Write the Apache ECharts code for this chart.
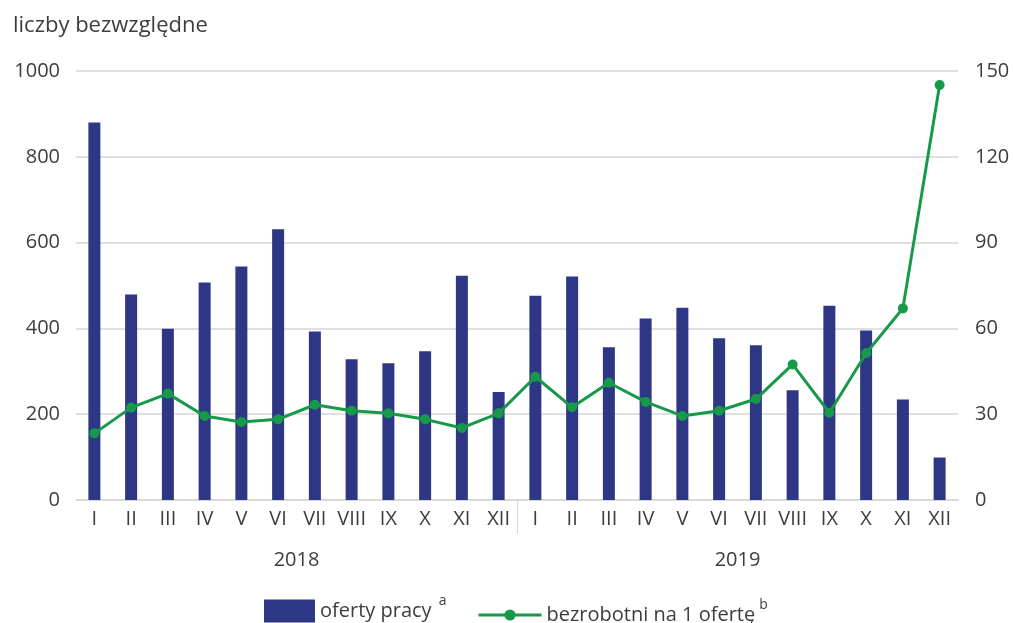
<!DOCTYPE html>
<html>
<head>
<meta charset="utf-8">
<script src="https://cdn.jsdelivr.net/npm/echarts@6/dist/echarts.min.js"></script>
<style>
html,body{margin:0;padding:0;background:#fff;}
#chart{width:1013px;height:623px;}
</style>
</head>
<body>
<div id="chart"></div>
<script>
const months = ['I','II','III','IV','V','VI','VII','VIII','IX','X','XI','XII',
                'I','II','III','IV','V','VI','VII','VIII','IX','X','XI','XII'];
const years = ['2018','2019'];
const ofertyPracy = [880,479,399,507,544,631,393,328,319,347,523,252,
                     476,521,356,423,448,377,361,256,453,395,234,99];
const bezrobotniNaOferte = [23.3,32.3,37.2,29.4,27.3,28.2,33.3,31.2,30.3,28.2,25.2,30.3,
                            43.1,32.4,41.0,34.3,29.4,31.2,35.3,47.4,30.5,51.3,67.0,145.1];
const leftTicks = {min:0, max:1000, interval:200};
const rightTicks = {min:0, max:150, interval:30};
const yTitle = 'liczby bezwzględne';
const nameBars = 'oferty pracy';
const nameLine = 'bezrobotni na 1 ofertę';

const FONT = '"Open Sans", "Noto Sans", sans-serif';
const TXT = '#3d3d3d';
const BAR = '#2d3786';
const GREEN = '#17994a';
const GRID = '#d6d6d6';

const nMonths = months.length;
const perYear = 12;

const chart = echarts.init(document.getElementById('chart'));
chart.setOption({
  animation:false,
  backgroundColor:'#fff',
  textStyle:{fontFamily:FONT, color:TXT},
  title:{text:yTitle, left:8, top:10, textStyle:{fontFamily:FONT, fontSize:22, fontWeight:'normal', color:TXT}},
  grid:{left:76, right:55, top:71, bottom:123},
  legend:[
    {data:[{name:nameBars, icon:'rect'}], left:264, top:594, padding:0, itemWidth:51, itemHeight:23, itemGap:5,
     formatter: n => '{t|' + n + '}{s|a}',
     textStyle:{color:TXT, fontFamily:FONT, rich:{
       t:{fontSize:20, fontFamily:FONT, color:TXT},
       s:{fontSize:14, fontFamily:FONT, color:TXT, padding:[0,0,20,7]}}}},
    {data:[{name:nameLine, lineStyle:{width:3}}], left:477, top:598, padding:0, itemWidth:63, itemHeight:14, itemGap:6,
     formatter: n => '{t|' + n + '}{s|b}',
     textStyle:{color:TXT, fontFamily:FONT, rich:{
       t:{fontSize:20, fontFamily:FONT, color:TXT},
       s:{fontSize:14, fontFamily:FONT, color:TXT, padding:[0,0,20,4]}}}}
  ],
  xAxis:[
    {type:'category', data:months, gridIndex:0,
     axisLine:{show:true, lineStyle:{color:GRID, width:1.5}},
     axisTick:{show:false},
     axisLabel:{color:TXT, fontSize:20, fontFamily:FONT, margin:9, interval:0}},
    {type:'value', min:0, max:nMonths, gridIndex:0, position:'bottom',
     axisLine:{show:false}, splitLine:{show:false},
     axisTick:{show:true, customValues:[perYear], length:34, lineStyle:{color:GRID, width:1}},
     axisLabel:{show:true, customValues:[perYear/2, perYear*1.5], margin:50,
       color:TXT, fontSize:20, fontFamily:FONT,
       formatter: v => years[Math.floor(v/perYear)]}}
  ],
  yAxis:[
    {type:'value', min:leftTicks.min, max:leftTicks.max, interval:leftTicks.interval,
     axisLine:{show:false}, axisTick:{show:false},
     splitLine:{lineStyle:{color:GRID, width:1.5}},
     axisLabel:{color:TXT, fontSize:20, fontFamily:FONT, margin:16, formatter: v => String(v)}},
    {type:'value', min:rightTicks.min, max:rightTicks.max, interval:rightTicks.interval,
     position:'right',
     axisLine:{show:false}, axisTick:{show:false}, splitLine:{show:false},
     axisLabel:{color:TXT, fontSize:20, fontFamily:FONT, margin:17, formatter: v => String(v)}}
  ],
  series:[
    {name:nameBars, type:'bar', data:ofertyPracy, xAxisIndex:0, yAxisIndex:0,
     barWidth:12, itemStyle:{color:BAR}},
    {name:nameLine, type:'line', data:bezrobotniNaOferte, xAxisIndex:0, yAxisIndex:1,
     symbol:'circle', symbolSize:10, itemStyle:{color:GREEN},
     lineStyle:{color:GREEN, width:3}}
  ]
});
</script>
</body>
</html>
